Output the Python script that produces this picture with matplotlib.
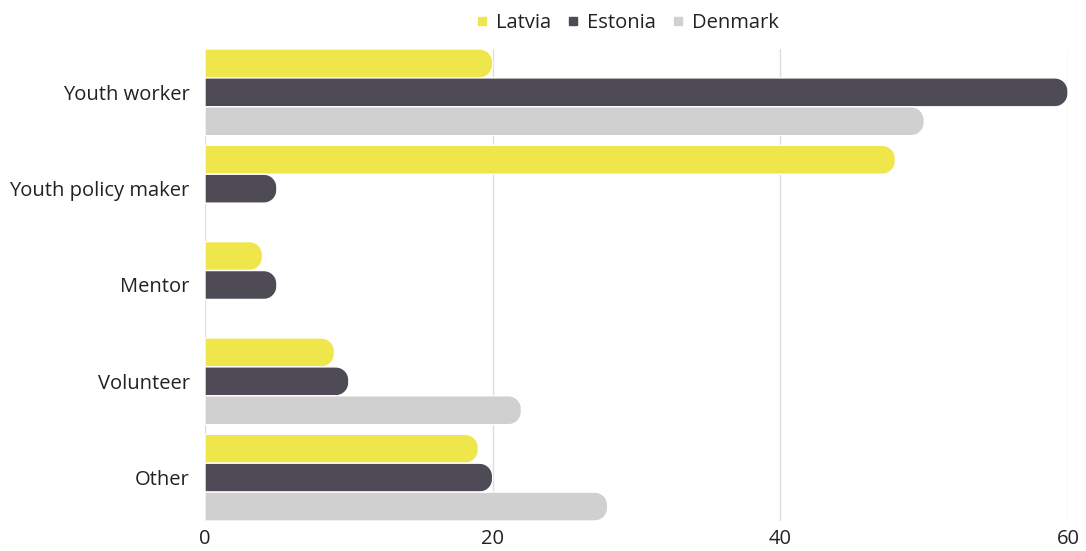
import matplotlib
matplotlib.use("Agg")
import numpy as np
import matplotlib.pyplot as plt
from matplotlib.patches import Polygon
from matplotlib.lines import Line2D

plt.rcParams['font.family'] = ['Open Sans', 'DejaVu Sans']

categories = ['Youth worker', 'Youth policy maker', 'Mentor', 'Volunteer', 'Other']
countries = ['Latvia', 'Estonia', 'Denmark']
latvia = [20, 48, 4, 9, 19]
estonia = [60, 5, 5, 10, 20]
denmark = [50, 0, 0, 22, 28]
colors = ['#EFE64B', '#4E4B56', '#D0D0D0']

fig = plt.figure(figsize=(10.86, 5.51), dpi=100)
ax = fig.add_axes([205 / 1086, 30 / 551, 863 / 1086, 472 / 551])
ax.set_xlim(0, 60)
ax.set_ylim(4.45, -0.45)

# 圆角半径(像素)换算成数据单位
fig.canvas.draw()
p0 = ax.transData.transform((0, 0))
p1 = ax.transData.transform((1, 1))
px_x = abs(p1[0] - p0[0])
px_y = abs(p1[1] - p0[1])
r_px = 13
rx = r_px / px_x
ry = r_px / px_y


def rounded_bar(ax, yc, h, v, color):
    """左端平直、右端圆角的横条"""
    y0, y1 = yc - h / 2, yc + h / 2
    r_x = min(rx, v)
    r_y = min(ry, h / 2)
    t = np.linspace(0, np.pi / 2, 24)
    cx = v - r_x
    lower = np.column_stack([cx + r_x * np.sin(t), y0 + r_y - r_y * np.cos(t)])
    upper = np.column_stack([cx + r_x * np.cos(t), y1 - r_y + r_y * np.sin(t)])
    pts = np.vstack([[0, y0], lower, upper, [0, y1]])
    ax.add_patch(Polygon(pts, closed=True, facecolor=color, edgecolor='white',
                         linewidth=1.0, zorder=3))


bar_h = 0.3
offsets = [-bar_h, 0, bar_h]
for series, off, color in zip([latvia, estonia, denmark], offsets, colors):
    for i, v in enumerate(series):
        if v <= 0:
            continue
        rounded_bar(ax, i + off, bar_h, v, color)

ax.set_xticks([0, 20, 40, 60])
ax.set_yticks(range(len(categories)))
ax.set_yticklabels(categories)
ax.tick_params(axis='both', length=0, labelsize=14.5, colors='#222222')
ax.tick_params(axis='x', pad=6)
ax.tick_params(axis='y', pad=11)
ax.grid(axis='x', color='#DDDDDD', linewidth=1, zorder=0)
ax.set_axisbelow(True)
for s in ax.spines.values():
    s.set_visible(False)

handles = [Line2D([], [], marker='s', linestyle='none', markersize=5.5,
                  markerfacecolor=c, markeredgecolor=c) for c in colors]
fig.legend(handles, countries, loc='center', bbox_to_anchor=(0.576, 0.958),
           ncol=3, frameon=False, fontsize=14.5, handletextpad=0.2,
           columnspacing=0.6, handlelength=1.0, labelcolor='#222222')

fig.savefig('out.png', dpi=100)
